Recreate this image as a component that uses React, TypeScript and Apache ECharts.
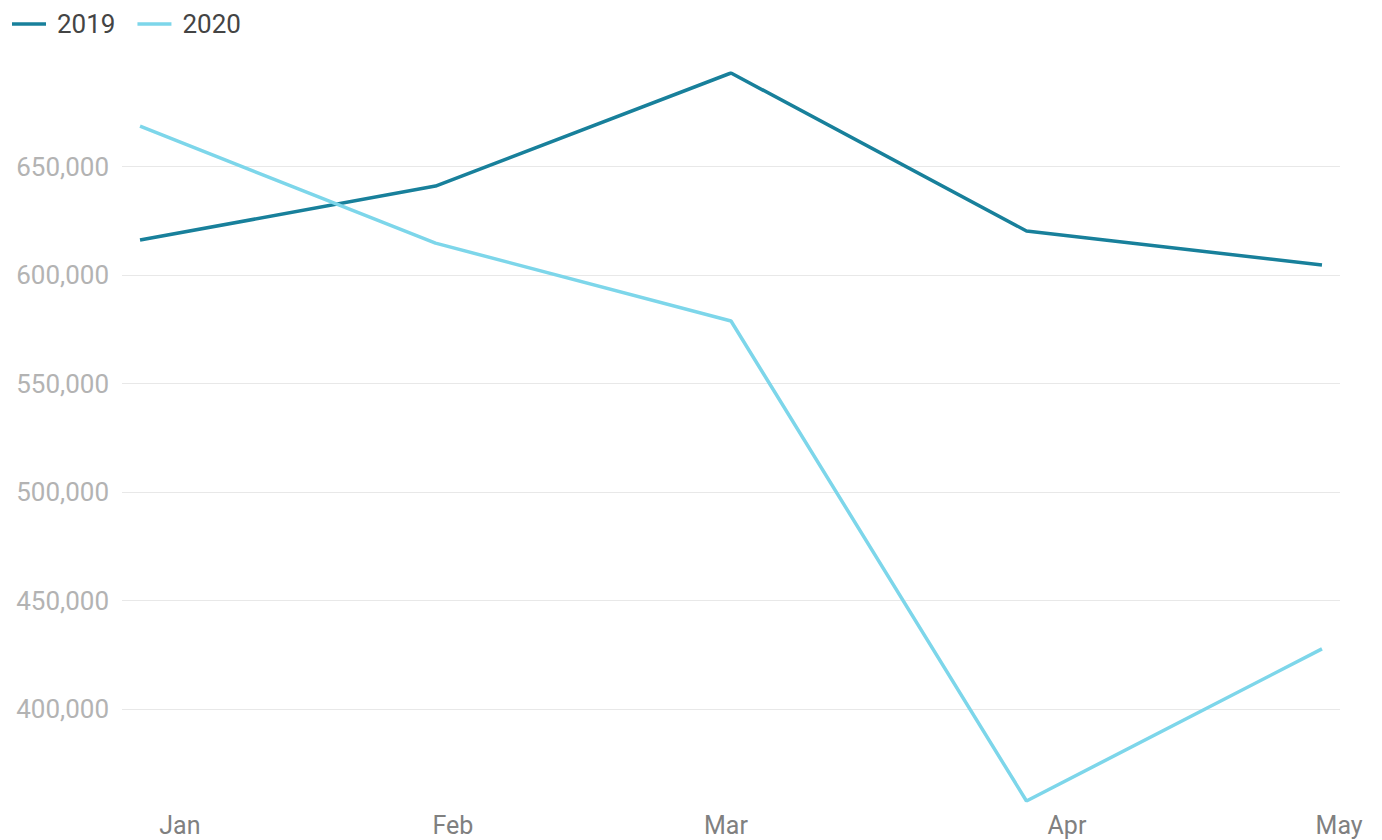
import React, { useEffect, useRef } from "react";
import * as echarts from "echarts";

// ---- data ----
const MONTHS = ["Jan", "Feb", "Mar", "Apr", "May"];
const SERIES_NAMES = ["2019", "2020"];
const VALUES_2019 = [616200, 641100, 693200, 620400, 604700];
const VALUES_2020 = [668700, 614800, 578900, 357700, 427800];

// ---- layout / style ----
const LABEL_POSITIONS = [0.135, 1.059, 1.983, 3.137, 4.058];
const COLORS = ["#18809b", "#7dd6ea"];
const FONT = "Roboto, 'Noto Sans', sans-serif";

export default function App() {
  const ref = useRef<HTMLDivElement>(null);

  useEffect(() => {
    document.body.style.margin = "0";
    const chart = echarts.init(ref.current!, undefined, { renderer: "svg" });
    const toPairs = (arr: number[]) => arr.map((v, i) => [i, v]);
    chart.setOption({
      animation: false,
      color: COLORS,
      textStyle: { fontFamily: FONT },
      legend: {
        left: 7,
        top: 6,
        icon: "rect",
        itemWidth: 34,
        itemHeight: 3.5,
        itemGap: 22,
        data: SERIES_NAMES,
        textStyle: { fontSize: 26, color: "#444", fontFamily: FONT, padding: [0, 0, 0, 6] },
      },
      grid: { left: 122, right: 42, top: 73, bottom: 39, containLabel: false },
      xAxis: {
        type: "value",
        min: -0.061,
        max: 4.061,
        axisLine: { show: false },
        axisTick: { show: false },
        splitLine: { show: false },
        axisLabel: {
          customValues: LABEL_POSITIONS,
          formatter: (v: number) => MONTHS[Math.round(v)] ?? "",
          fontSize: 25,
          lineHeight: 25,
          color: "#808080",
          margin: 12,
          fontFamily: FONT,
        },
      },
      yAxis: {
        type: "value",
        min: "dataMin",
        max: "dataMax",
        axisLine: { show: false },
        axisTick: { show: false },
        splitLine: {
          show: true,
          showMinLine: false,
          showMaxLine: false,
          lineStyle: { color: "#e8e8e8", width: 1 },
        },
        axisLabel: {
          showMinLabel: false,
          showMaxLabel: false,
          fontSize: 26,
          color: "#b3b3b3",
          margin: 13,
          fontFamily: FONT,
          formatter: (v: number) => v.toLocaleString("en-US"),
        },
      },
      series: [
        {
          name: SERIES_NAMES[0],
          type: "line",
          data: toPairs(VALUES_2019),
          showSymbol: false,
          lineStyle: { width: 3.5, color: COLORS[0] },
          itemStyle: { color: COLORS[0] },
        },
        {
          name: SERIES_NAMES[1],
          type: "line",
          data: toPairs(VALUES_2020),
          showSymbol: false,
          lineStyle: { width: 3.5, color: COLORS[1] },
          itemStyle: { color: COLORS[1] },
        },
      ],
    });
    return () => chart.dispose();
  }, []);

  return <div ref={ref} style={{ width: 1382, height: 840 }} />;
}
